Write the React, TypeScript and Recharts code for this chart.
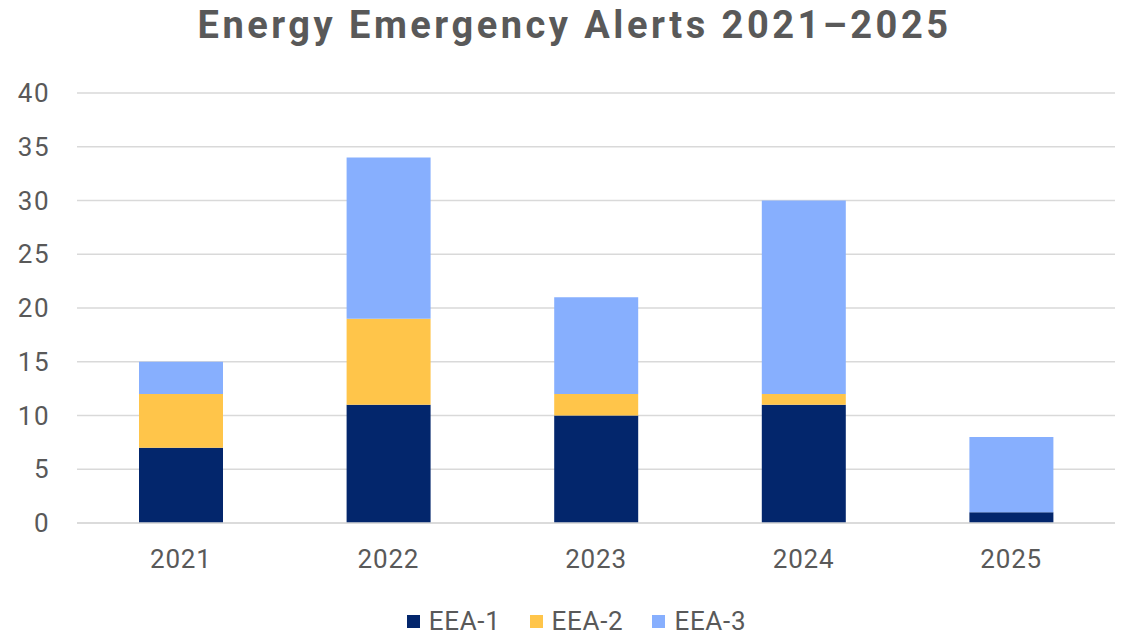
import { BarChart, Bar, XAxis, YAxis, CartesianGrid } from "recharts";

const years = ["2021", "2022", "2023", "2024", "2025"];
const eea1 = [7, 11, 10, 11, 1];
const eea2 = [5, 8, 2, 1, 0];
const eea3 = [3, 15, 9, 18, 7];
const yTicks = [0, 5, 10, 15, 20, 25, 30, 35, 40];
const seriesNames = ["EEA-1", "EEA-2", "EEA-3"];
const seriesColors = ["#03266c", "#ffc54a", "#87affe"];

const data = years.map((year, i) => ({
  year,
  "EEA-1": eea1[i],
  "EEA-2": eea2[i],
  "EEA-3": eea3[i],
}));

const font = "Roboto, 'Noto Sans', sans-serif";
const grey = "#595959";

export default function App() {
  return (
    <div style={{ position: "absolute", left: 0, top: 0, width: 1125, height: 636, background: "#fff", fontFamily: font }}>
      <div
        style={{
          position: "absolute",
          top: 3,
          left: 12,
          width: 1125,
          textAlign: "center",
          fontSize: 38,
          fontWeight: 700,
          letterSpacing: 3.5,
          color: grey,
        }}
      >
        Energy Emergency Alerts 2021–2025
      </div>
      <BarChart
        width={1125}
        height={636}
        data={data}
        margin={{ top: 93, right: 10, bottom: 83, left: 0 }}
        barSize={84}
      >
        <CartesianGrid vertical={false} stroke="#d9d9d9" strokeWidth={1.5} />
        <XAxis
          dataKey="year"
          height={30}
          tickLine={false}
          axisLine={{ stroke: "#d9d9d9", strokeWidth: 1.5 }}
          tick={{ fill: grey, fontSize: 26, fontFamily: font, letterSpacing: 0.8 }}
          tickMargin={21}
        />
        <YAxis
          width={77}
          domain={[0, 40]}
          ticks={yTicks}
          tickLine={false}
          axisLine={false}
          tick={{ fill: grey, fontSize: 26, fontFamily: font, letterSpacing: 1.5 }}
          tickMargin={21}
        />
        {seriesNames.map((name, i) => (
          <Bar key={name} dataKey={name} stackId="a" fill={seriesColors[i]} isAnimationActive={false} />
        ))}
      </BarChart>
      <div
        style={{
          position: "absolute",
          top: 606,
          left: 0,
          width: 1125,
          display: "flex",
          justifyContent: "center",
          alignItems: "center",
          gap: 29,
          fontSize: 26,
          letterSpacing: 0.7,
          color: grey,
          paddingLeft: 14,
        }}
      >
        {seriesNames.map((name, i) => (
          <div key={name} style={{ display: "flex", alignItems: "center" }}>
            <span style={{ display: "inline-block", width: 13, height: 13, background: seriesColors[i], marginRight: 9 }} />
            <span>{name}</span>
          </div>
        ))}
      </div>
    </div>
  );
}
